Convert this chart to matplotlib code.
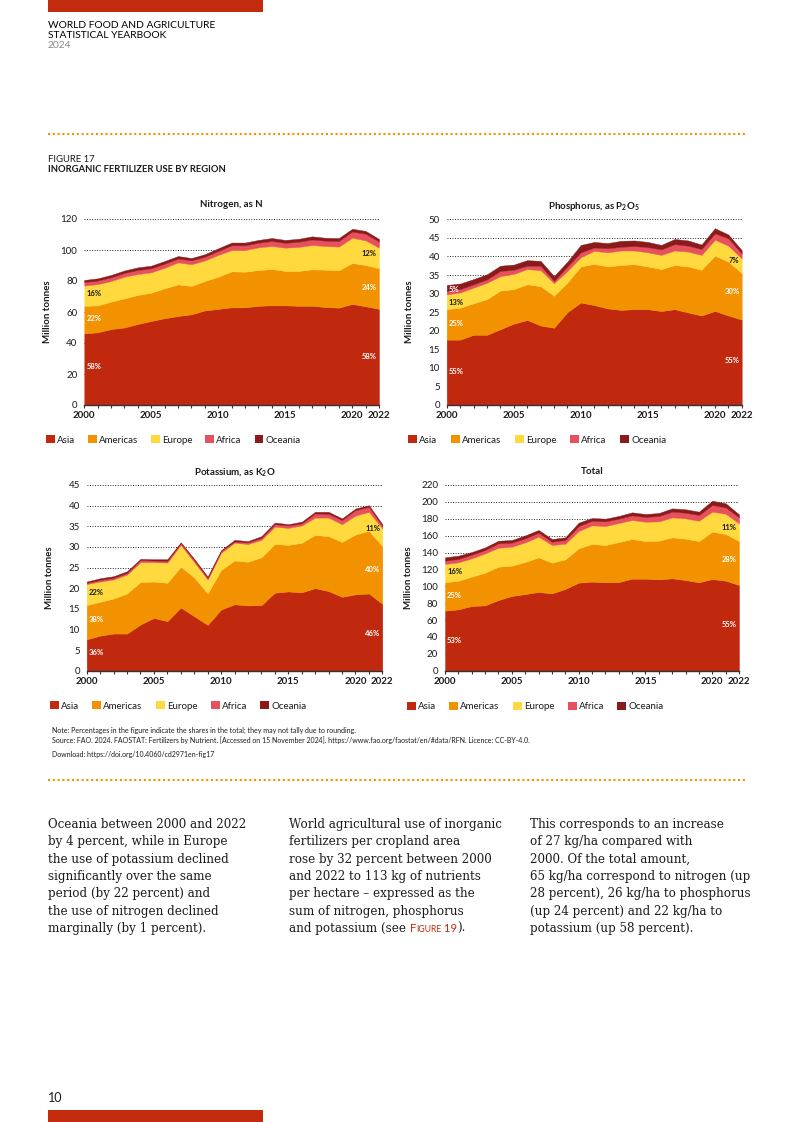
import matplotlib
matplotlib.use('Agg')
import matplotlib.pyplot as plt
import numpy as np
from matplotlib.patches import Rectangle, Patch
from matplotlib.lines import Line2D

plt.rcParams['font.family'] = ['Lato', 'DejaVu Sans']
plt.rcParams['mathtext.fontset'] = 'custom'
plt.rcParams['mathtext.rm'] = 'Lato'
plt.rcParams['mathtext.bf'] = 'Lato:bold'

# ---------------- data ----------------
years = list(range(2000, 2023))
regions = ['Asia', 'Americas', 'Europe', 'Africa', 'Oceania']

nitrogen_asia = [46.2, 46.9, 49.0, 50.0, 52.3, 54.2, 56.0, 57.4, 58.5, 61.0, 62.0, 63.0, 63.0, 64.0, 64.3, 64.3, 64.0, 64.0, 63.2, 62.8, 65.2, 63.7, 62.0]
nitrogen_americas = [17.7, 17.4, 17.7, 18.8, 18.7, 18.3, 19.3, 20.4, 18.3, 19.0, 20.8, 23.2, 23.0, 23.1, 23.4, 22.2, 22.5, 23.5, 24.1, 24.1, 26.4, 26.6, 26.2]
nitrogen_europe = [13.1, 13.7, 13.3, 14.0, 13.5, 13.1, 13.3, 14.2, 14.0, 13.3, 14.0, 13.8, 14.0, 14.6, 14.9, 15.0, 15.5, 15.7, 15.3, 15.3, 16.3, 15.9, 13.3]
nitrogen_africa = [2.3, 2.3, 2.4, 2.4, 2.6, 2.6, 2.6, 2.5, 2.5, 2.4, 2.6, 3.0, 3.0, 3.0, 3.2, 3.1, 3.3, 3.6, 3.4, 3.6, 4.0, 4.3, 3.9]
nitrogen_oceania = [1.4, 1.4, 1.5, 1.6, 1.7, 1.7, 1.7, 1.6, 1.5, 1.6, 1.7, 1.8, 1.8, 1.8, 1.9, 1.9, 1.9, 2.0, 1.9, 1.9, 1.8, 1.8, 1.7]

phosphorus_asia = [17.6, 17.6, 18.9, 18.9, 20.4, 21.9, 22.9, 21.4, 20.8, 25.0, 27.6, 26.9, 26.0, 25.6, 25.8, 25.8, 25.3, 25.8, 24.9, 24.1, 25.3, 24.1, 23.0]
phosphorus_americas = [8.2, 8.6, 8.5, 9.6, 10.4, 9.3, 9.6, 10.6, 8.6, 8.0, 9.7, 11.1, 11.3, 12.1, 12.1, 11.5, 11.3, 11.9, 12.4, 12.3, 14.9, 14.5, 12.5]
phosphorus_europe = [4.0, 4.1, 4.2, 4.4, 3.9, 4.1, 4.1, 4.3, 3.4, 3.1, 2.5, 3.5, 3.8, 3.9, 3.7, 3.8, 3.8, 3.9, 4.0, 4.0, 4.3, 4.3, 4.0]
phosphorus_africa = [0.9, 0.9, 0.9, 0.9, 1.4, 1.1, 0.9, 1.2, 0.6, 1.2, 1.3, 0.9, 1.1, 1.0, 1.2, 1.4, 1.5, 1.7, 1.6, 1.6, 1.7, 2.0, 1.3]
phosphorus_oceania = [1.6, 1.5, 1.4, 1.4, 1.4, 1.4, 1.5, 1.3, 1.3, 1.3, 2.0, 1.5, 1.4, 1.6, 1.5, 1.4, 1.2, 1.4, 1.4, 1.2, 1.4, 1.0, 0.9]

potassium_asia = [7.6, 8.5, 9.0, 9.0, 11.2, 12.8, 12.0, 15.3, 13.2, 11.1, 14.8, 16.1, 15.8, 15.9, 18.9, 19.2, 19.0, 20.0, 19.3, 17.9, 18.5, 18.7, 16.2]
potassium_americas = [8.3, 8.2, 8.5, 9.7, 10.3, 8.8, 9.3, 9.9, 9.4, 7.6, 9.6, 10.6, 10.6, 11.6, 11.8, 11.3, 12.0, 12.9, 13.3, 13.3, 14.5, 15.2, 14.0]
potassium_europe = [5.1, 4.9, 4.6, 4.6, 4.8, 4.7, 4.9, 5.3, 3.7, 3.4, 4.2, 4.3, 4.3, 4.2, 4.2, 4.1, 4.2, 4.2, 4.5, 4.3, 4.6, 4.6, 4.3]
potassium_africa = [0.3, 0.4, 0.4, 0.4, 0.5, 0.4, 0.4, 0.4, 0.5, 0.4, 0.4, 0.3, 0.4, 0.5, 0.6, 0.6, 0.5, 1.0, 0.9, 1.0, 1.3, 1.2, 0.6]
potassium_oceania = [0.3, 0.4, 0.4, 0.4, 0.3, 0.3, 0.4, 0.2, 0.3, 0.3, 0.2, 0.4, 0.3, 0.4, 0.4, 0.3, 0.4, 0.4, 0.5, 0.4, 0.4, 0.4, 0.4]

total_asia = [71.1, 72.7, 76.6, 77.4, 83.7, 88.5, 90.8, 93.2, 91.6, 96.8, 104.3, 105.5, 104.7, 105.0, 109.0, 109.0, 108.2, 109.4, 107.4, 104.7, 108.6, 106.6, 101.5]
total_americas = [33.6, 33.9, 34.8, 38.7, 39.5, 35.9, 38.0, 41.1, 36.4, 35.1, 40.7, 44.6, 44.2, 47.4, 47.0, 44.6, 45.8, 48.6, 49.0, 48.9, 56.1, 55.3, 52.1]
total_europe = [21.7, 21.8, 21.7, 22.9, 22.5, 22.5, 23.2, 24.5, 20.9, 18.6, 20.5, 22.1, 22.5, 22.6, 22.5, 22.9, 22.9, 23.6, 24.1, 24.1, 23.7, 24.1, 21.0]
total_africa = [3.9, 3.9, 4.3, 4.0, 5.2, 4.8, 4.8, 4.7, 3.9, 4.3, 5.9, 5.5, 5.5, 5.1, 5.5, 5.6, 6.4, 6.8, 6.7, 6.7, 7.9, 7.5, 7.1]
total_oceania = [4.0, 4.0, 3.2, 3.1, 3.1, 3.1, 3.5, 3.2, 3.2, 3.2, 4.0, 3.2, 3.2, 3.2, 3.6, 3.5, 3.5, 3.9, 4.0, 4.0, 5.1, 4.8, 3.5]

nitrogen_pct_left = ['58%', '22%', '16%']
nitrogen_pct_right = ['58%', '24%', '12%']
phosphorus_pct_left = ['55%', '25%', '13%', '5%']
phosphorus_pct_right = ['55%', '30%', '7%']
potassium_pct_left = ['36%', '38%', '22%']
potassium_pct_right = ['46%', '40%', '11%']
total_pct_left = ['53%', '25%', '16%']
total_pct_right = ['55%', '28%', '11%']

xtick_years = [2000, 2005, 2010, 2015, 2020, 2022]

# ---------------- style ----------------
colors = ['#C0290D', '#F29200', '#FFD93D', '#E9505E', '#8B1A1A']
RED = '#C22B0D'
ORANGE = '#F39200'
DARK = '#1a1a1a'

W, H = 793, 1122
fig = plt.figure(figsize=(W / 100, H / 100), dpi=100)


def fx(x):
    return x / W


def fy(y):
    return 1 - y / H


def axes_px(x0, x1, ytop, ybot):
    return fig.add_axes([fx(x0), fy(ybot), (x1 - x0) / W, (ybot - ytop) / H])


def draw_panel(ax, series, ymax, ystep, title, title_y,
               lab_left, lab_left_y, lab_right, lab_right_y, lab_colors_left, lab_colors_right):
    ax.stackplot(years, *series, colors=colors, edgecolor='face', linewidth=0.3, zorder=2)
    ax.set_xlim(2000, 2022)
    ax.set_ylim(0, ymax)
    yt = np.arange(0, ymax + 0.01, ystep)
    ax.set_yticks(yt)
    ax.set_yticklabels([f'{int(v)}' for v in yt], fontsize=7, color=DARK)
    for v in yt[1:]:
        ax.axhline(v, color='#222222', lw=0.7, ls=(0, (1, 1.6)), zorder=1)
    ax.set_xticks(years)
    ax.set_xticklabels([str(y) if y in xtick_years else '' for y in years],
                       fontsize=7, fontweight='bold', color=DARK)
    ax.tick_params(axis='y', length=0, pad=5)
    ax.tick_params(axis='x', length=2.5, width=0.8, color='#333333', pad=2)
    for s in ['top', 'right', 'left']:
        ax.spines[s].set_visible(False)
    ax.spines['bottom'].set_color('#333333')
    ax.spines['bottom'].set_linewidth(1.0)
    ax.spines['bottom'].set_zorder(3)
    ax.text(0.5, title_y, title, transform=ax.transAxes, ha='center', va='baseline',
            fontsize=7, fontweight='bold', color=DARK)
    ax.set_ylabel('Million tonnes', fontsize=7, fontweight='bold', color=DARK)
    ax.yaxis.set_label_coords(-0.11, 0.5)
    for t, yv, c in zip(lab_left, lab_left_y, lab_colors_left):
        ax.annotate(t, xy=(2000, yv), xytext=(1.5, 0), textcoords='offset points',
                    ha='left', va='center', fontsize=5.5, fontweight='bold', color=c, zorder=4)
    for t, yv, c in zip(lab_right, lab_right_y, lab_colors_right):
        ax.annotate(t, xy=(2022, yv), xytext=(-1.5, 0), textcoords='offset points',
                    ha='right', va='center', fontsize=5.5, fontweight='bold', color=c, zorder=4)


def panel_legend(x, y, colspace):
    handles = [Patch(facecolor=c, edgecolor='none') for c in colors]
    fig.legend(handles, regions, loc='center left', bbox_to_anchor=(fx(x), fy(y)),
               ncol=5, frameon=False, fontsize=7, handlelength=0.9, handleheight=0.9,
               handletextpad=0.2, columnspacing=colspace, borderpad=0, borderaxespad=0,
               labelcolor=DARK)


WH = 'white'
ax1 = axes_px(84.3, 379, 219, 405)
draw_panel(ax1, [nitrogen_asia, nitrogen_americas, nitrogen_europe, nitrogen_africa, nitrogen_oceania],
           120, 20, 'Nitrogen, as N', 1.065,
           nitrogen_pct_left, [25, 55.5, 72], nitrogen_pct_right, [31, 76, 97.5],
           [WH, WH, DARK], [WH, WH, DARK])
panel_legend(46, 440, 1.35)

ax2 = axes_px(446.7, 741.7, 219.3, 405)
draw_panel(ax2, [phosphorus_asia, phosphorus_americas, phosphorus_europe, phosphorus_africa, phosphorus_oceania],
           50, 5, 'Phosphorus, as P$_\\mathbf{2}$O$_\\mathbf{5}$', 1.058,
           phosphorus_pct_left, [9, 22, 27.5, 31.2], phosphorus_pct_right, [12, 30.5, 39],
           [WH, WH, DARK, WH], [WH, WH, DARK])
panel_legend(408, 440, 1.45)

ax3 = axes_px(86.7, 382.3, 485, 670.7)
draw_panel(ax3, [potassium_asia, potassium_americas, potassium_europe, potassium_africa, potassium_oceania],
           45, 5, 'Potassium, as K$_\\mathbf{2}$O', 1.055,
           potassium_pct_left, [4.5, 12.5, 19], potassium_pct_right, [9, 24.6, 34.5],
           [WH, WH, DARK], [WH, WH, DARK])
panel_legend(50, 706, 1.4)

ax4 = axes_px(445, 739, 485, 670.7)
draw_panel(ax4, [total_asia, total_americas, total_europe, total_africa, total_oceania],
           220, 20, 'Total', 1.058,
           total_pct_left, [35.5, 89, 118], total_pct_right, [55, 132, 170],
           [WH, WH, DARK], [WH, WH, DARK])
panel_legend(407, 706.5, 1.4)

# ---------------- page decorations ----------------
fig.add_artist(Rectangle((fx(48), fy(12)), (262.7 - 48) / W, 12 / H,
                         transform=fig.transFigure, color=RED, lw=0))
fig.add_artist(Rectangle((fx(48), fy(1122)), (262.7 - 48) / W, 12 / H,
                         transform=fig.transFigure, color=RED, lw=0))

fig.text(fx(47.5), fy(25), 'WORLD FOOD AND AGRICULTURE', fontsize=7.4, va='center', color='black')
fig.text(fx(47.5), fy(35.5), 'STATISTICAL YEARBOOK', fontsize=7.4, va='center', color='black')
fig.text(fx(47.5), fy(46), '2024', fontsize=7.4, va='center', color='#8a8a8a')

for yy in (134, 780):
    fig.add_artist(Line2D([fx(48), fx(745)], [fy(yy), fy(yy)], transform=fig.transFigure,
                          color=ORANGE, lw=1.5, ls=(0, (1, 1.3))))

fig.text(fx(47.5), fy(159), 'FIGURE 17', fontsize=6.8, va='center', color=DARK)
fig.text(fx(47.5), fy(170), 'INORGANIC FERTILIZER USE BY REGION', fontsize=6.8,
         fontweight='bold', va='center', color=DARK)

fig.text(fx(52.5), fy(730), 'Note: Percentages in the figure indicate the shares in the total; they may not tally due to rounding.',
         fontsize=5, va='center', color=DARK)
fig.text(fx(52.5), fy(740.5), 'Source: FAO. 2024. FAOSTAT: Fertilizers by Nutrient. [Accessed on 15 November 2024]. '
         'https://www.fao.org/faostat/en/#data/RFN. Licence: CC-BY-4.0.',
         fontsize=5, va='center', color=DARK)
fig.text(fx(52.5), fy(754.5), 'Download: https://doi.org/10.4060/cd2971en-fig17',
         fontsize=5, va='center', color=DARK)

# body text
col1 = ["Oceania between 2000 and 2022", "by 4 percent, while in Europe",
        "the use of potassium declined", "significantly over the same",
        "period (by 22 percent) and", "the use of nitrogen declined",
        "marginally (by 1 percent)."]
col2 = ["World agricultural use of inorganic", "fertilizers per cropland area",
        "rose by 32 percent between 2000", "and 2022 to 113 kg of nutrients",
        "per hectare \u2013 expressed as the", "sum of nitrogen, phosphorus"]
col2_last = ["and potassium (see ", "F", "IGURE", " 19", ")."]
col3 = ["This corresponds to an increase", "of 27 kg/ha compared with",
        "2000. Of the total amount,", "65 kg/ha correspond to nitrogen (up",
        "28 percent), 26 kg/ha to phosphorus", "(up 24 percent) and 22 kg/ha to",
        "potassium (up 58 percent)."]

BODY = dict(fontsize=8.6, family=['DejaVu Serif'], color='#1c1c1c', va='baseline')
line_y = [828, 845.3, 862.6, 880, 897.3, 914.6, 932]
for i, t in enumerate(col1):
    fig.text(fx(47.5), fy(line_y[i]), t, **BODY)
for i, t in enumerate(col2):
    fig.text(fx(289), fy(line_y[i]), t, **BODY)
for i, t in enumerate(col3):
    fig.text(fx(530), fy(line_y[i]), t, **BODY)

# last line of column 2 with small-caps reference
renderer = fig.canvas.get_renderer()
xcur = fx(289)
ybase = fy(line_y[6])
styles = [BODY,
          dict(fontsize=8.2, color=RED, va='baseline'),
          dict(fontsize=6.2, color=RED, va='baseline'),
          dict(fontsize=8.2, color=RED, va='baseline'),
          BODY]
for t, st in zip(col2_last, styles):
    tx = fig.text(xcur, ybase, t, **st)
    bb = tx.get_window_extent(renderer=renderer)
    xcur = xcur + bb.width / (W)

fig.text(fx(47.5), fy(1097.5), '10', fontsize=9, va='center', color=DARK)

fig.savefig('out.png', dpi=100)
